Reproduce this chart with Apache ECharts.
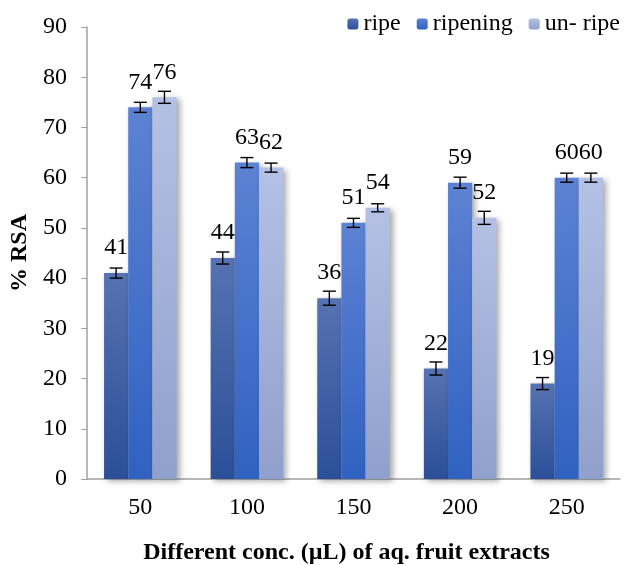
<!DOCTYPE html>
<html>
<head>
<meta charset="utf-8">
<script src="https://cdn.jsdelivr.net/npm/echarts@6/dist/echarts.min.js"></script>
<style>html,body{margin:0;padding:0;background:#fff}#c{width:624px;height:565px}</style>
</head>
<body>
<div id="c"></div>
<script>
var categories = ['50', '100', '150', '200', '250'];
var seriesNames = ['ripe', 'ripening', 'un- ripe'];
var ripe = [41, 44, 36, 22, 19];
var ripening = [74, 63, 51, 59, 60];
var unripe = [76, 62, 54, 52, 60];
var ripeErr = [1.0, 1.2, 1.4, 1.3, 1.2];
var ripeningErr = [1.0, 1.0, 0.9, 1.1, 0.9];
var unripeErr = [1.2, 0.9, 0.8, 1.3, 0.9];

var FONT = '"Liberation Serif", "Times New Roman", serif';
var values = [ripe, ripening, unripe];
var errs = [ripeErr, ripeningErr, unripeErr];
var grads = [
  ['#5672b2', '#2b4f98'],
  ['#5c82d3', '#3062c1'],
  ['#b4c1e5', '#90a0cc']
];
var CAT_GAP = 0.32;

function grad(c) {
  return new echarts.graphic.LinearGradient(0, 0, 0, 1, [
    {offset: 0, color: c[0]}, {offset: 1, color: c[1]}
  ]);
}

var series = [];
values.forEach(function (vals, i) {
  series.push({
    name: seriesNames[i],
    type: 'bar',
    data: vals,
    barGap: '0%',
    barCategoryGap: (CAT_GAP * 100) + '%',
    itemStyle: {
      color: grad(grads[i]),
      shadowColor: 'rgba(0,0,0,0.35)',
      shadowBlur: 6,
      shadowOffsetX: 3,
      shadowOffsetY: 2
    },
    label: {
      show: true,
      position: 'top',
      distance: 13,
      color: '#000',
      fontFamily: FONT,
      fontSize: 24
    },
    z: 2
  });
});
values.forEach(function (vals, i) {
  var data = vals.map(function (v, k) { return [k, v - errs[i][k], v + errs[i][k]]; });
  series.push({
    type: 'custom',
    data: data,
    z: 5,
    silent: true,
    renderItem: function (params, api) {
      var k = api.value(0);
      var band = api.size([1, 0])[0];
      var bw = band * (1 - CAT_GAP) / 3;
      var lo = api.coord([k, api.value(1)]);
      var hi = api.coord([k, api.value(2)]);
      var x = lo[0] + (i - 1) * bw;
      var hw = 6.5;
      var st = {stroke: '#000', lineWidth: 1.4};
      return {
        type: 'group',
        children: [
          {type: 'line', shape: {x1: x, y1: hi[1], x2: x, y2: lo[1]}, style: st},
          {type: 'line', shape: {x1: x - hw, y1: hi[1], x2: x + hw, y2: hi[1]}, style: st},
          {type: 'line', shape: {x1: x - hw, y1: lo[1], x2: x + hw, y2: lo[1]}, style: st}
        ]
      };
    }
  });
});

var chart = echarts.init(document.getElementById('c'));
chart.setOption({
  animation: false,
  textStyle: {fontFamily: FONT},
  legend: {
    data: seriesNames,
    right: 4,
    top: 12,
    padding: 0,
    itemWidth: 11,
    itemHeight: 11,
    itemGap: 16,
    textStyle: {fontFamily: FONT, fontSize: 24, color: '#000'}
  },
  grid: {left: 87, right: 4, top: 27, bottom: 86, outerBoundsMode: 'none', containLabel: false},
  xAxis: {
    type: 'category',
    data: categories,
    axisLine: {lineStyle: {color: '#a0a0a0', width: 1.5}},
    axisTick: {show: false},
    axisLabel: {color: '#000', fontFamily: FONT, fontSize: 24, margin: 17},
    name: 'Different conc. (µL) of aq. fruit extracts',
    nameLocation: 'middle',
    nameGap: 62,
    nameTextStyle: {color: '#000', fontFamily: FONT, fontSize: 24, fontWeight: 'bold', padding: [0, 14, 0, 0]}
  },
  yAxis: {
    type: 'value',
    min: 0,
    max: 90,
    interval: 10,
    splitLine: {show: false},
    axisLine: {show: true, lineStyle: {color: '#a0a0a0', width: 1.5}},
    axisTick: {show: true, length: 6, lineStyle: {color: '#a0a0a0'}},
    axisLabel: {color: '#000', fontFamily: FONT, fontSize: 24, margin: 20},
    name: '% RSA',
    nameLocation: 'middle',
    nameGap: 55,
    nameTextStyle: {color: '#000', fontFamily: FONT, fontSize: 24, fontWeight: 'bold'}
  },
  series: series
});
</script>
</body>
</html>
